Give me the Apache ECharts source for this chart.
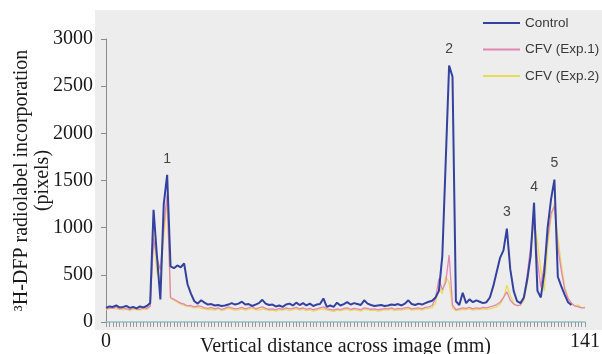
<!DOCTYPE html>
<html>
<head>
<meta charset="utf-8">
<script src="https://cdn.jsdelivr.net/npm/echarts@6/dist/echarts.min.js"></script>
<style>
  html, body { margin: 0; padding: 0; background: #fff; }
  #chart { width: 602px; height: 354px; }
</style>
</head>
<body>
<div id="chart"></div>
<script>
// x = position index (0..141), y = pixels
const control = [
  150,165,160,175,155,160,170,150,160,145,165,155,170,200,
  1190,700,240,1250,1560,590,570,600,580,620,400,300,220,195,230,
  205,185,190,175,180,170,175,185,200,185,
  195,215,185,190,170,185,200,235,195,180,
  185,165,175,160,185,195,175,205,180,200,
  175,195,170,185,190,250,160,175,160,205,
  175,190,210,185,200,190,180,230,195,180,
  170,175,180,170,175,185,180,190,175,195,
  230,190,180,195,185,200,215,225,
  260,330,700,1700,2720,2600,220,180,310,200,240,210,230,215,200,
  210,260,380,530,680,760,990,560,330,220,200,260,450,700,1265,330,260,520,1000,1300,1510,480,380,290,210,180
]
const exp1 = [
  140,150,145,160,135,150,140,130,150,140,135,150,145,165,
  880,680,550,1000,1350,260,240,220,200,190,170,175,160,170,165,
  150,145,155,140,150,135,145,160,150,140,
  145,155,140,150,165,140,150,160,145,135,
  140,130,145,135,150,140,145,155,140,150,
  135,145,130,140,150,160,140,135,125,140,
  130,145,150,135,145,140,130,150,145,135,
  140,130,135,145,140,150,135,145,140,150,
  155,140,145,150,140,155,160,175,
  250,460,340,420,710,180,130,140,150,145,155,140,150,145,155,
  150,160,170,185,210,260,320,230,190,175,180,250,500,800,1100,650,370,600,880,1150,1230,800,550,350,250,200,170,160,150,150
]
const exp2 = [
  130,140,150,135,145,125,140,120,135,130,125,140,130,175,
  940,520,450,900,1300,250,230,210,190,175,170,160,150,155,145,
  140,130,135,125,140,120,130,145,135,125,
  130,140,125,135,145,130,125,140,130,120,
  125,115,130,125,135,120,130,140,125,135,
  120,130,115,125,135,140,125,120,110,125,
  120,130,135,120,130,125,115,135,130,120,
  125,115,120,130,125,135,120,130,125,135,
  140,125,130,135,125,140,145,150,
  200,370,300,480,420,150,120,125,135,130,140,125,135,130,140,
  135,140,150,160,190,250,390,280,200,170,180,230,420,750,1080,850,550,330,800,1100,1260,900,620,380,260,200,170,180,150,160
]
const peakNames = ['1', '2', '3', '4', '5']
const peakIndex = [18, 101, 118, 126, 132]
const xMax = 141
const yTicks = [0, 500, 1000, 1500, 2000, 2500, 3000]

const toPairs = (arr) => arr.map((v, i) => [i, v])

var myChart = echarts.init(document.getElementById('chart'))

let option = {
  animation: false,
  backgroundColor: '#ffffff',
  graphic: [
    {
      type: 'rect',
      z: -10,
      silent: true,
      shape: { x: 95, y: 10, width: 507, height: 320 },
      style: { fill: '#ededed' }
    }
  ],
  grid: { left: 106, right: 17, top: 39, bottom: 32, outerBoundsMode: 'none' },
  legend: {
    data: ['Control', 'CFV (Exp.1)', 'CFV (Exp.2)'],
    orient: 'vertical',
    left: 483,
    top: 16,
    padding: 0,
    icon: 'rect',
    itemWidth: 37,
    itemHeight: 2,
    itemGap: 12.5,
    textStyle: { fontFamily: 'Liberation Sans', fontSize: 13.5, color: '#3a3a3a' }
  },
  xAxis: {
    type: 'value',
    min: 0,
    max: xMax,
    interval: 1,
    name: 'Vertical distance across image (mm)',
    nameLocation: 'middle',
    nameMoveOverlap: false,
    nameGap: 15,
    nameTextStyle: { fontFamily: 'Liberation Serif', fontSize: 20, color: '#1a1a1a' },
    splitLine: { show: false },
    axisLine: { lineStyle: { color: '#86c6c6', width: 1.5 } },
    axisTick: { length: 5, lineStyle: { color: '#9a9a9a' } },
    axisLabel: {
      margin: 10,
      fontFamily: 'Liberation Serif',
      fontSize: 20,
      color: '#1a1a1a',
      formatter: (v) => (v === 0 || v === xMax ? String(v) : '')
    }
  },
  yAxis: {
    type: 'value',
    min: yTicks[0],
    max: yTicks[yTicks.length - 1],
    interval: 500,
    name: '³H-DFP radiolabel incorporation\n(pixels)',
    nameLocation: 'middle',
    nameMoveOverlap: false,
    nameGap: 53,
    nameTextStyle: { fontFamily: 'Liberation Serif', fontSize: 20, lineHeight: 21, color: '#1a1a1a' },
    splitLine: { show: false },
    axisLine: { show: true, lineStyle: { color: '#8a8a8a', width: 1 } },
    axisTick: { show: true, length: 5, lineStyle: { color: '#8a8a8a' } },
    axisLabel: {
      margin: 13,
      fontFamily: 'Liberation Serif',
      fontSize: 20,
      color: '#1a1a1a',
      formatter: (v) => String(v)
    }
  },
  series: [
    {
      name: 'CFV (Exp.2)',
      type: 'line',
      data: toPairs(exp2),
      symbol: 'none',
      z: 2,
      lineStyle: { color: '#e9dc55', width: 1.3 },
      itemStyle: { color: '#e9dc55' }
    },
    {
      name: 'CFV (Exp.1)',
      type: 'line',
      data: toPairs(exp1),
      symbol: 'none',
      z: 3,
      lineStyle: { color: '#e286b6', width: 1.3 },
      itemStyle: { color: '#e286b6' }
    },
    {
      name: 'Control',
      type: 'line',
      data: toPairs(control),
      symbol: 'none',
      z: 4,
      lineStyle: { color: '#33429e', width: 2 },
      itemStyle: { color: '#33429e' },
      markPoint: {
        symbol: 'circle',
        symbolSize: 0,
        silent: true,
        label: {
          show: true,
          position: 'top',
          distance: 9,
          fontFamily: 'Liberation Sans',
          fontSize: 14,
          color: '#444',
          formatter: (p) => p.name
        },
        data: peakNames.map((n, k) => ({ name: n, coord: [peakIndex[k], control[peakIndex[k]]] }))
      }
    }
  ]
}
myChart.setOption(option)
</script>
</body>
</html>
